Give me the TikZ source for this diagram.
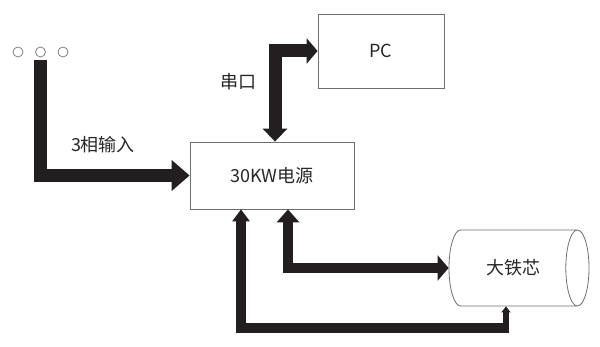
\documentclass[tikz,border=0pt]{standalone}
\usepackage{fontspec}
\newfontfamily\cjk{Noto Sans CJK SC}
\usetikzlibrary{arrows.meta,shapes.geometric}
\definecolor{boxgray}{RGB}{110,110,110}
\definecolor{arrowblack}{RGB}{35,31,32}

\begin{document}
\begin{tikzpicture}[
    x=1pt, y=-1pt,
    every node/.style={font=\cjk\fontsize{18}{21}\selectfont, text=black!85},
    unit/.style={rectangle, draw=boxgray, line width=0.8pt, inner sep=0pt},
    core/.style={cylinder, draw=boxgray, line width=0.8pt, minimum height=140pt, minimum width=76pt, aspect=1.4, inner sep=0pt},
    terminal/.style={circle, draw=gray, line width=0.8pt, minimum size=10pt, inner sep=0pt},
    bus/.style={draw=arrowblack, line join=miter},
    arrow/.style={bus, line width=13pt, -{Triangle[width=30pt,length=18pt]}}
]
\useasboundingbox (0,0) rectangle (600,347);

% Three phase terminals
\node[terminal] (cir1) at (18,52) {};
\node[terminal] (cir2) at (40.5,52) {};
\node[terminal] (cir3) at (63,52) {};

% Units
\node[unit, minimum width=164pt, minimum height=67pt] (power) at (272,175.5) {30KW电源};
\node[unit, minimum width=126pt, minimum height=74pt] (pc) at (381,51) {PC};
\node[core] (core) at (513,268) {大铁芯};

% Labels
\node (inlabel) at (103,145) {3相输入};
\node (seriallabel) at (238,82) {串口};

% Connections
\draw[arrow] ([yshift=-3pt]cir2.south) |- (power.west);
\draw[bus, line width=13pt, {Triangle[width=24pt,length=13pt]}-{Triangle[width=25pt,length=11pt]}] ([xshift=3pt]power.north) |- (pc.west);
\draw[bus, line width=10pt, {Triangle[width=22pt,length=13pt]}-{Triangle[width=25pt,length=11pt]}] ([xshift=16pt]power.south) |- (core.west);

\coordinate (bend) at (506,328);
\draw[bus, line width=10pt, -{Triangle[width=17pt,length=12pt]}] ([xshift=3pt]bend) -| ([xshift=-31pt]power.south);
\draw[bus, line width=6pt, -{Triangle[width=9pt,length=6pt]}] (bend) -- (bend |- core.south);

\end{tikzpicture}
\end{document}
